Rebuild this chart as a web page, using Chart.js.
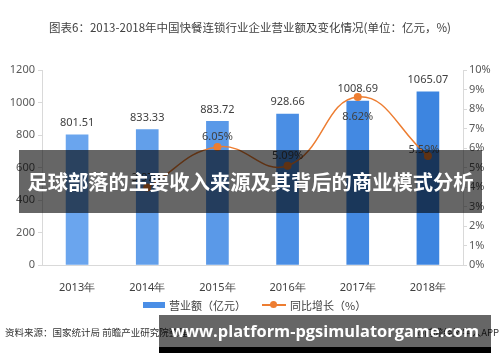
<!DOCTYPE html>
<html>
<head>
<meta charset="utf-8">
<script src="https://cdn.jsdelivr.net/npm/chart.js@4"></script>
<style>
  html, body { margin: 0; padding: 0; background: #fff; }
  #wrap { position: relative; width: 500px; height: 362px; overflow: hidden;
          font-family: "Noto Sans CJK SC", "Noto Sans", sans-serif; }
  #c { position: absolute; left: 0; top: 0; }
  .title { position: absolute; left: 0; width: 500px; top: 19px; text-align: center;
           font-size: 11.5px; color: #404040; }
  .legend { position: absolute; top: 297px; left: 0; width: 500px; font-size: 11px; color: #404040; }
  .legend span { position: absolute; white-space: nowrap; }
  .src { position: absolute; top: 325px; font-size: 9.5px; color: #333; white-space: nowrap; }
  .band1 { position: absolute; left: 19px; top: 150px; width: 463px; height: 63px;
           background: rgba(0,0,0,0.6); color: #fff; font-weight: bold; font-size: 20.3px;
           line-height: 63px; text-align: center; white-space: nowrap; }
  .band2 { position: absolute; left: 159px; top: 315px; width: 332px; height: 32px;
           background: rgba(0,0,0,0.6); border-bottom: 6px solid #000; color: #fff;
           font-family: "Open Sans", sans-serif; font-weight: bold; font-size: 16.4px;
           line-height: 32px; text-align: center; white-space: nowrap; }
</style>
</head>
<body>
<div id="wrap">
  <canvas id="c" width="500" height="362"></canvas>
  <div class="title">图表6：2013-2018年中国快餐连锁行业企业营业额及变化情况(单位：亿元，%)</div>
  <div class="legend">
    <span style="left:143px;top:5px;width:22px;height:6px;background:#4a8ee6;"></span>
    <span style="left:169px;top:0;">营业额（亿元）</span>
    <span style="left:262px;top:7px;width:24px;height:1.5px;background:#ed7d31;"></span>
    <span style="left:270px;top:4px;width:7px;height:7px;border-radius:50%;background:#ed7d31;"></span>
    <span style="left:290px;top:0;">同比增长（%）</span>
  </div>
  <div class="src" style="left:5px;">资料来源：国家统计局 前瞻产业研究院整理</div>
  <div class="src" style="right:1px;">@前瞻经济学人APP</div>
  <div class="band1">足球部落的主要收入来源及其背后的商业模式分析</div>
  <div class="band2">www.platform-pgsimulatorgame.com</div>
</div>
<script>
// 数据
const years   = ['2013年', '2014年', '2015年', '2016年', '2017年', '2018年'];
const revenue = [801.51, 833.33, 883.72, 928.66, 1008.69, 1065.07];   // 营业额（亿元）
const growth  = [null, 3.97, 6.05, 5.09, 8.62, 5.59];                 // 同比增长（%）
const leftTicks  = [0, 200, 400, 600, 800, 1000, 1200];
const rightTicks = [0, 1, 2, 3, 4, 5, 6, 7, 8, 9, 10];

// 样式
const barColors = ['#6aa5ee', '#629fea', '#5a99e8', '#4a8ee4', '#4389e2', '#3d85e0'];
const lineLabelDy = [0, -10, -10, -10, 20, -6];
const lineLabelDx = [0, 0, 0, 0, 0, -4];

const valueLabels = {
  id: 'valueLabels',
  afterDatasetsDraw(chart) {
    const ctx = chart.ctx;
    ctx.save();
    ctx.font = '11px "Noto Sans", sans-serif';
    ctx.fillStyle = '#404040';
    ctx.textAlign = 'center';
    ctx.textBaseline = 'middle';
    chart.getDatasetMeta(0).data.forEach((el, i) => {
      ctx.fillText(revenue[i].toFixed(2), el.x, el.y - 12);
    });
    chart.getDatasetMeta(1).data.forEach((el, i) => {
      if (growth[i] == null) return;
      ctx.fillText(growth[i].toFixed(2) + '%', el.x + lineLabelDx[i], el.y + lineLabelDy[i]);
    });
    ctx.restore();
  }
};

const axisGray = '#d9d9d9';
const tickFont = { size: 11, family: '"Noto Sans", sans-serif' };

new Chart(document.getElementById('c'), {
  data: {
    labels: years,
    datasets: [
      {
        type: 'bar', label: '营业额（亿元）', data: revenue, yAxisID: 'y',
        backgroundColor: barColors, barThickness: 22, order: 1
      },
      {
        type: 'line', label: '同比增长（%）', data: growth, yAxisID: 'y1',
        borderColor: '#ed7d31', borderWidth: 1.5, tension: 0.45,
        pointRadius: 4, pointBackgroundColor: '#ed7d31', pointBorderWidth: 0,
        order: 0
      }
    ]
  },
  options: {
    responsive: false,
    animation: false,
    layout: { padding: { top: 70, left: 0, right: 0, bottom: 0 } },
    plugins: { legend: { display: false }, tooltip: { enabled: false } },
    scales: {
      x: {
        grid: { display: false },
        border: { color: axisGray },
        ticks: { color: '#404040', font: tickFont, padding: 8 },
        afterFit: s => { s.height = 97; }
      },
      y: {
        position: 'left', min: 0, max: 1200,
        afterBuildTicks: s => { s.ticks = leftTicks.map(v => ({ value: v })); },
        grid: { drawOnChartArea: false, tickLength: 4, color: axisGray },
        border: { color: axisGray },
        ticks: { color: '#595959', font: tickFont, padding: 3, callback: v => String(v) },
        afterFit: s => { s.width = 42; }
      },
      y1: {
        position: 'right', min: 0, max: 10,
        afterBuildTicks: s => { s.ticks = rightTicks.map(v => ({ value: v })); },
        grid: { drawOnChartArea: false, tickLength: 4, color: axisGray },
        border: { color: axisGray },
        ticks: { color: '#595959', font: tickFont, padding: 2, callback: v => v + '%' },
        afterFit: s => { s.width = 37; }
      }
    }
  },
  plugins: [valueLabels]
});
</script>
</body>
</html>
